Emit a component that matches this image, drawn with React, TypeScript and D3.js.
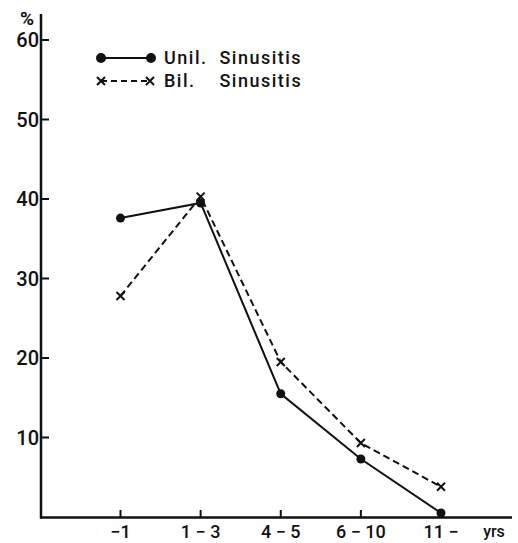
import { useRef, useEffect } from "react";
import * as d3 from "d3";

const ageGroups = ["-1", "1-3", "4-5", "6-10", "11-"];
const ageLabels = ["−1", "1 − 3", "4 − 5", "6 − 10", "11 −"];
const unilValues = [37.6, 39.5, 15.5, 7.3, 0.5];
const bilValues = [27.8, 40.3, 19.5, 9.3, 3.8];
const yTicks = [10, 20, 30, 40, 50, 60];

const App = () => {
  const svgRef = useRef<SVGSVGElement>(null);
  const width = 518;
  const height = 543;
  const font = "Roboto, 'Liberation Sans', sans-serif";

  useEffect(() => {
    const svg = d3.select(svgRef.current);
    svg.selectAll("*").remove();

    const x = d3.scalePoint().domain(ageGroups).range([120.5, 441]);
    const y = d3.scaleLinear().domain([0, 60]).range([517, 40]);
    const axisLeft = 41;
    const axisRight = 512;

    // axes
    svg.append("line")
      .attr("x1", axisLeft).attr("x2", axisLeft)
      .attr("y1", 14).attr("y2", 518.5)
      .attr("stroke", "#111").attr("stroke-width", 2.5);
    svg.append("line")
      .attr("x1", axisLeft - 1).attr("x2", axisRight)
      .attr("y1", 517.5).attr("y2", 517.5)
      .attr("stroke", "#111").attr("stroke-width", 2.5);

    const yt = svg.append("g").selectAll("g").data(yTicks).join("g");
    yt.append("line")
      .attr("x1", axisLeft).attr("x2", axisLeft + 8)
      .attr("y1", (d) => y(d)).attr("y2", (d) => y(d))
      .attr("stroke", "#111").attr("stroke-width", 2);
    yt.append("text")
      .attr("x", axisLeft - 2).attr("y", (d) => y(d) + 7)
      .attr("text-anchor", "end")
      .attr("font-family", font).attr("font-weight", 500).attr("font-size", 20)
      .attr("fill", "#111")
      .text((d) => d);

    svg.append("text")
      .attr("x", 27).attr("y", 25)
      .attr("text-anchor", "middle")
      .attr("font-family", font).attr("font-weight", 700).attr("font-size", 19)
      .attr("fill", "#111")
      .text("%");

    const xt = svg.append("g").selectAll("g").data(ageGroups).join("g");
    xt.append("line")
      .attr("x1", (d) => x(d)!).attr("x2", (d) => x(d)!)
      .attr("y1", 517).attr("y2", 510)
      .attr("stroke", "#111").attr("stroke-width", 2);
    xt.append("text")
      .attr("x", (d) => x(d)!).attr("y", 538)
      .attr("text-anchor", "middle")
      .attr("font-family", font).attr("font-weight", 500).attr("font-size", 18)
      .attr("fill", "#111")
      .text((d, i) => ageLabels[i]);
    svg.append("text")
      .attr("x", 494).attr("y", 537)
      .attr("text-anchor", "middle")
      .attr("font-family", font).attr("font-weight", 500).attr("font-size", 16)
      .attr("fill", "#111")
      .text("yrs");

    const line = d3.line<number>()
      .x((d, i) => x(ageGroups[i])!)
      .y((d) => y(d));

    svg.append("path")
      .attr("d", line(bilValues))
      .attr("fill", "none").attr("stroke", "#111")
      .attr("stroke-width", 2).attr("stroke-dasharray", "7,4");
    svg.append("path")
      .attr("d", line(unilValues))
      .attr("fill", "none").attr("stroke", "#111")
      .attr("stroke-width", 2);

    const cross = (g, cx, cy, s) => {
      g.append("path")
        .attr("d", `M${cx - s},${cy - s}L${cx + s},${cy + s}M${cx - s},${cy + s}L${cx + s},${cy - s}`)
        .attr("stroke", "#111").attr("stroke-width", 2);
    };

    const marks = svg.append("g");
    bilValues.forEach((v, i) => cross(marks, x(ageGroups[i])!, y(v), 4));
    marks.selectAll("circle").data(unilValues).join("circle")
      .attr("cx", (d, i) => x(ageGroups[i])!)
      .attr("cy", (d) => y(d))
      .attr("r", 4.5)
      .attr("fill", "#111");

    // legend
    const lg = svg.append("g");
    lg.append("line")
      .attr("x1", 101).attr("x2", 151).attr("y1", 58).attr("y2", 58)
      .attr("stroke", "#111").attr("stroke-width", 2);
    lg.append("circle").attr("cx", 101).attr("cy", 58).attr("r", 5).attr("fill", "#111");
    lg.append("circle").attr("cx", 151).attr("cy", 58).attr("r", 5).attr("fill", "#111");
    lg.append("line")
      .attr("x1", 101).attr("x2", 150).attr("y1", 81).attr("y2", 81)
      .attr("stroke", "#111").attr("stroke-width", 2).attr("stroke-dasharray", "6,4");
    cross(lg, 101, 81, 4);
    cross(lg, 150, 81, 4);
    lg.append("text")
      .attr("x", 164).attr("y", 64)
      .attr("font-family", font).attr("font-weight", 500).attr("font-size", 18)
      .attr("letter-spacing", 1.5)
      .attr("fill", "#111").attr("xml:space", "preserve")
      .text("Unil.  Sinusitis");
    lg.append("text")
      .attr("x", 164).attr("y", 87)
      .attr("font-family", font).attr("font-weight", 500).attr("font-size", 18)
      .attr("letter-spacing", 1.5)
      .attr("fill", "#111").attr("xml:space", "preserve")
      .text("Bil.    Sinusitis");
  }, []);

  return (
    <svg
      ref={svgRef}
      width={width}
      height={height}
      style={{ position: "absolute", left: 0, top: 0, background: "#fff" }}
    />
  );
};

export default App;
